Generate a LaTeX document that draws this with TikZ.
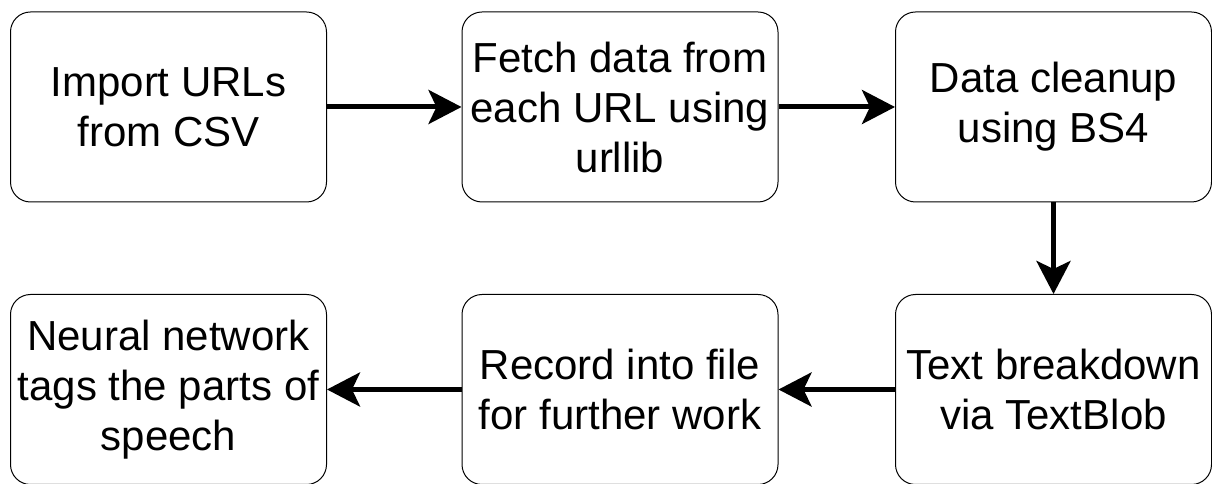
\documentclass[tikz,border=0pt]{standalone}
\usepackage{fontspec}
\setmainfont{Liberation Sans}
\usetikzlibrary{arrows.meta}
\begin{document}
\begin{tikzpicture}[x=1pt,y=1pt,
  stepbox/.style={draw=black, line width=1pt, rounded corners=20pt,
    minimum width=316pt, minimum height=190pt, inner sep=0pt,
    align=center, font=\fontsize{42}{50}\selectfont},
  flow/.style={line width=5pt, -{Stealth[length=33pt, width=34pt, inset=8pt]}}]
\useasboundingbox (0,0) rectangle (1212,484);
\node[stepbox] (imp) at (168.5,377) {Import URLs\\from CSV};
\node[stepbox] (fetch) at (620,377) {Fetch data from\\each URL using\\urllib};
\node[stepbox] (clean) at (1053.5,377) {Data cleanup\\using BS4};
\node[stepbox] (blob) at (1053.5,94.5) {Text breakdown\\via TextBlob};
\node[stepbox] (rec) at (620,94.5) {Record into file\\for further work};
\node[stepbox] (nn) at (168.5,94.5) {Neural network\\tags the parts of\\speech};
\draw[flow] (imp) -- (fetch);
\draw[flow] (fetch) -- (clean);
\draw[flow] (clean) -- (blob);
\draw[flow] (blob) -- (rec);
\draw[flow] (rec) -- (nn);
\end{tikzpicture}
\end{document}
